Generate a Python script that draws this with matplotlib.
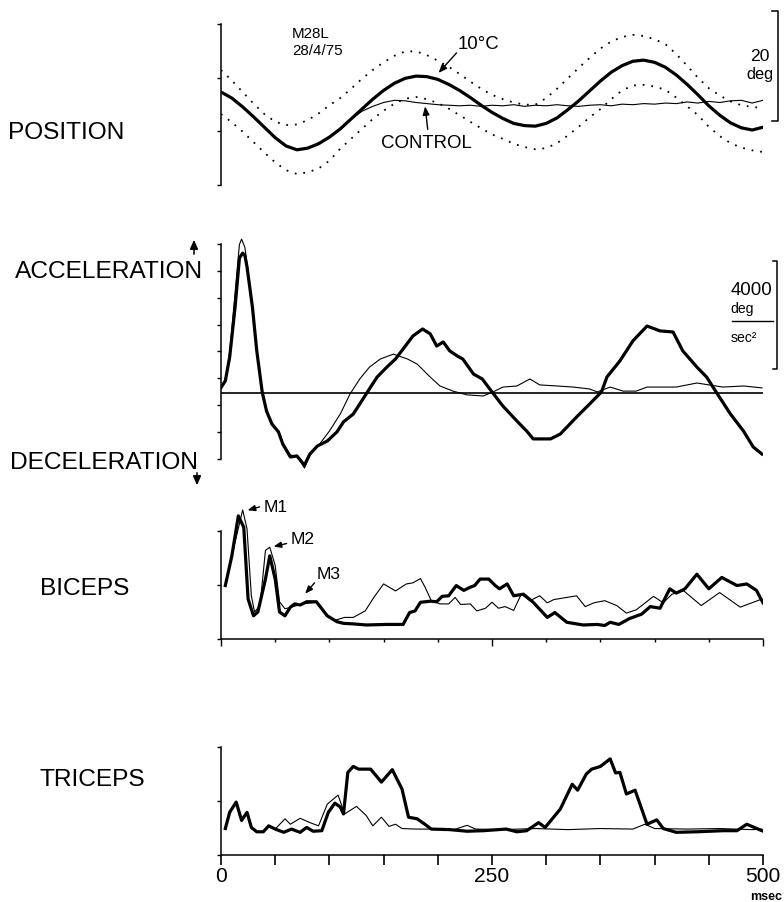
import numpy as np
import matplotlib
matplotlib.use("Agg")
import matplotlib.pyplot as plt
from matplotlib import font_manager

W, H = 784, 903

# --- data (msec on x) ---
# position, deg, sampled every 10 msec
pos_t = np.arange(0, 501, 10)
pos_cooled = [16.9, 15.8, 14.2, 12.4, 10.5, 8.6, 7.1, 6.4, 6.7, 7.5, 8.7,
              10.2, 12.0, 13.8, 15.6, 17.2, 18.5, 19.4, 19.8, 19.7, 19.2,
              18.3, 17.2, 15.9, 14.5, 13.2, 12.1, 11.2, 10.8, 10.7, 11.2,
              12.2, 13.7, 15.3, 17.1, 18.9, 20.5, 21.7, 22.5, 22.7, 22.3,
              21.4, 20.0, 18.3, 16.4, 14.4, 12.7, 11.3, 10.4, 10.0, 10.5]
pos_control = [16.9, 15.8, 14.2, 12.4, 10.5, 8.6, 7.1, 6.4, 6.7, 7.5, 8.7,
               10.2, 12.0, 13.4, 14.3, 15.0, 15.4, 15.3, 15.0, 14.8, 14.6,
               14.5, 14.4, 14.5, 14.3, 14.5, 14.4, 14.6, 14.3, 14.5, 14.4,
               14.6, 14.4, 14.3, 14.5, 14.6, 14.4, 14.7, 14.6, 14.8, 14.7,
               14.9, 14.8, 15.1, 14.9, 15.2, 15.0, 15.3, 15.4, 14.9, 15.4]
pos_upper = [20.9, 19.0, 16.9, 14.8, 12.9, 11.5, 10.9, 11.0, 11.8, 13.0, 14.5,
             15.8, 17.5, 19.3, 20.9, 22.3, 23.5, 24.3, 24.3, 23.6, 22.6,
             21.5, 20.2, 18.8, 17.5, 16.4, 15.6, 15.0, 14.6, 14.6, 15.8,
             17.5, 19.4, 21.3, 23.1, 24.8, 26.1, 26.9, 27.3, 27.1, 26.5,
             25.6, 23.8, 21.7, 19.5, 17.6, 16.3, 15.2, 14.5, 14.2, 14.0]
pos_lower = [12.9, 11.4, 9.7, 7.8, 5.9, 4.1, 2.7, 2.0, 2.3, 3.0, 4.4,
             6.6, 8.4, 10.2, 12.0, 13.5, 14.8, 15.7, 16.0, 15.6, 14.9,
             13.9, 12.7, 11.5, 10.3, 9.2, 8.4, 7.5, 6.9, 6.5, 6.7,
             7.6, 9.0, 10.6, 12.3, 13.8, 15.6, 17.2, 18.1, 18.2, 17.9,
             17.3, 15.9, 14.3, 12.7, 10.6, 8.9, 7.6, 6.8, 6.3, 6.0]

# acceleration, deg/sec^2
acc_cooled_t = [0, 4, 8, 13, 17, 20, 22, 24, 29, 33, 38, 42, 47, 53, 57, 64,
                70, 77, 82, 89, 98, 107, 113, 122, 131, 138, 144, 153, 161,
                168, 177, 186, 193, 199, 205, 211, 218, 223, 233, 241, 250,
                260, 273, 282, 288, 304, 313, 328, 340, 351, 356, 368, 380,
                393, 405, 417, 426, 439, 448, 458, 470, 482, 491, 499]
acc_cooled = [200, 450, 1330, 3180, 5000, 5180, 5100, 4670, 3180, 1560, 40,
              -670, -1150, -1440, -1890, -2370, -2330, -2670, -2260, -1960,
              -1780, -1440, -1070, -780, -220, 220, 590, 960, 1260, 1630,
              2110, 2370, 2190, 1740, 1890, 1560, 1370, 1260, 700, 520, 40,
              -480, -1040, -1410, -1700, -1700, -1520, -890, -410, 40, 590,
              1190, 1930, 2480, 2300, 2260, 1560, 960, 590, -40, -780,
              -1410, -2000, -2260]
acc_control_t = [0, 4, 8, 13, 17, 19, 22, 25, 29, 33, 38, 42, 47, 53, 57, 64,
                 70, 77, 82, 91, 100, 110, 119, 128, 137, 147, 159, 172, 181,
                 193, 202, 214, 227, 242, 251, 260, 273, 285, 294, 310, 325,
                 340, 347, 359, 371, 383, 393, 420, 439, 463, 482, 499]
acc_control = [200, 500, 1500, 3700, 5500, 5700, 5400, 4500, 3180, 1560, 40,
               -670, -1100, -1440, -1850, -2300, -2330, -2780, -2300, -1890,
               -1410, -780, -40, 520, 960, 1260, 1440, 1260, 1070, 590, 260,
               70, -70, -110, 40, 220, 260, 520, 300, 260, 220, 150, 40, 220,
               70, 70, 220, 220, 370, 220, 260, 190]

# biceps EMG (arbitrary units)
bic_cooled_t = [4, 10, 16, 21, 25, 30, 34, 41, 45, 50, 54, 59, 64, 68, 73, 79,
                88, 93, 98, 107, 113, 122, 134, 153, 168, 174, 179, 184, 193,
                199, 204, 210, 217, 224, 230, 234, 239, 247, 253, 257, 264,
                270, 279, 288, 301, 308, 319, 334, 347, 354, 359, 367, 377,
                388, 396, 405, 414, 420, 428, 439, 450, 462, 476, 485, 494, 500]
bic_cooled = [0.99, 1.54, 2.28, 2.07, 0.74, 0.43, 0.50, 1.11, 1.54, 1.11,
              0.50, 0.43, 0.59, 0.65, 0.63, 0.69, 0.69, 0.56, 0.43, 0.32,
              0.29, 0.28, 0.26, 0.27, 0.27, 0.49, 0.52, 0.68, 0.70, 0.69,
              0.79, 0.80, 0.99, 0.90, 0.96, 0.99, 1.11, 1.11, 0.99, 0.93,
              1.02, 0.80, 0.83, 0.68, 0.40, 0.49, 0.31, 0.26, 0.27, 0.25,
              0.31, 0.27, 0.38, 0.46, 0.60, 0.57, 0.93, 0.85, 0.93, 1.20,
              0.93, 1.14, 0.99, 1.02, 0.90, 0.67]
bic_control_t = [4, 10, 20, 24, 28, 31, 36, 41, 45, 50, 54, 59, 65, 75, 88, 98,
                 104, 114, 122, 133, 141, 150, 161, 171, 177, 184, 188, 194,
                 202, 210, 216, 221, 230, 236, 244, 250, 256, 262, 270, 277,
                 285, 294, 301, 307, 328, 336, 344, 354, 365, 374, 383, 399,
                 408, 416, 427, 443, 460, 479, 499]
bic_control = [0.99, 1.54, 2.39, 2.04, 0.80, 0.50, 0.62, 1.64, 1.70, 1.36,
               0.69, 0.56, 0.59, 0.65, 0.68, 0.43, 0.34, 0.40, 0.40, 0.52,
               0.77, 1.02, 0.89, 1.02, 1.04, 1.12, 0.97, 0.71, 0.65, 0.65,
               0.77, 0.64, 0.65, 0.52, 0.57, 0.68, 0.57, 0.60, 0.53, 0.83,
               0.71, 0.80, 0.67, 0.73, 0.80, 0.60, 0.67, 0.71, 0.62, 0.48,
               0.54, 0.79, 0.67, 0.83, 0.89, 0.62, 0.86, 0.59, 0.74]

# triceps EMG (arbitrary units)
tri_cooled_t = [4, 8, 14, 19, 24, 28, 33, 39, 44, 50, 58, 65, 73, 79, 85, 93,
                99, 105, 110, 113, 117, 122, 127, 138, 148, 158, 167, 173, 181,
                188, 194, 211, 227, 242, 263, 273, 282, 293, 299, 313, 324,
                329, 337, 342, 350, 359, 364, 368, 374, 382, 393, 402, 408,
                420, 439, 463, 476, 485, 499]
tri_cooled = [0.49, 0.79, 0.98, 0.64, 0.79, 0.51, 0.43, 0.43, 0.54, 0.48,
              0.42, 0.48, 0.42, 0.51, 0.44, 0.45, 0.79, 0.96, 0.89, 0.76,
              1.53, 1.64, 1.59, 1.59, 1.35, 1.58, 1.22, 0.70, 0.67, 0.57,
              0.48, 0.47, 0.44, 0.45, 0.48, 0.43, 0.45, 0.60, 0.51, 0.85,
              1.31, 1.20, 1.50, 1.59, 1.64, 1.78, 1.52, 1.53, 1.13, 1.20,
              0.57, 0.65, 0.49, 0.42, 0.43, 0.45, 0.45, 0.57, 0.45]
tri_control_t = [4, 8, 14, 19, 24, 28, 33, 39, 44, 50, 59, 64, 73, 82, 90, 98,
                 108, 114, 125, 134, 140, 148, 155, 161, 167, 180, 200, 215,
                 227, 235, 260, 290, 320, 350, 380, 391, 400, 430, 460, 490, 499]
tri_control = [0.49, 0.79, 0.98, 0.64, 0.79, 0.51, 0.43, 0.43, 0.54, 0.48,
               0.67, 0.57, 0.68, 0.60, 0.54, 0.94, 1.11, 0.76, 0.90, 0.73,
               0.54, 0.70, 0.53, 0.57, 0.49, 0.48, 0.48, 0.47, 0.55, 0.48,
               0.47, 0.49, 0.47, 0.49, 0.48, 0.57, 0.49, 0.48, 0.49, 0.47, 0.48]

# --- fonts ---
names = {f.name for f in font_manager.fontManager.ttflist}
if 'Liberation Sans Narrow' in names:
    FONT, K = 'Liberation Sans Narrow', 1.0
else:
    FONT, K = 'Liberation Sans', 0.84
plt.rcParams['font.family'] = [FONT, 'DejaVu Sans']

BOLD = 2.3
THIN = 0.8

fig = plt.figure(figsize=(W / 100, H / 100), dpi=100)


def fp(x, y):
    # pixel position -> figure fraction
    return (x / W, 1 - y / H)


def panel(top, bottom):
    ax = fig.add_axes([221 / W, 1 - bottom / H, (763 - 221) / W, (bottom - top) / H])
    ax.set_xlim(0, 500)
    ax.patch.set_visible(False)
    for s in ['top', 'right']:
        ax.spines[s].set_visible(False)
    ax.spines['left'].set_linewidth(1.1)
    ax.spines['bottom'].set_linewidth(1.1)
    ax.tick_params(axis='y', direction='out', length=3, width=1, labelleft=False)
    return ax


# Position
ax1 = panel(10, 190)
ax1.set_ylim(-0.727, 32.0)
ax1.spines['left'].set_bounds(0, 29.27)
ax1.spines['bottom'].set_visible(False)
ax1.set_xticks([])
ax1.set_yticks([0, 9.76, 19.5, 29.27])
ax1.plot(pos_t, pos_upper, color='black', lw=1.3, ls=(0, (1, 3.8)))
ax1.plot(pos_t, pos_lower, color='black', lw=1.3, ls=(0, (1, 3.8)))
ax1.plot(pos_t, pos_control, color='black', lw=THIN)
ax1.plot(pos_t, pos_cooled, color='black', lw=BOLD)
# 20 deg scale bar
ax1.plot([508, 514, 514, 508], [31.6, 31.6, 11.6, 11.6], color='black', lw=1.1, clip_on=False)
ax1.text(497, 23.6, '20', ha='center', va='center', fontsize=15 * K)
ax1.text(497, 20.2, 'deg', ha='center', va='center', fontsize=14 * K)
ax1.text(65, 27.6, 'M28L', ha='left', va='center', fontsize=13 * K)
ax1.text(66, 24.6, '28/4/75', ha='left', va='center', fontsize=13 * K)
ax1.text(218, 25.8, '10°C', ha='left', va='center', fontsize=16 * K)
ax1.annotate('', xy=(199, 20.0), xytext=(219, 24.4),
             arrowprops=dict(arrowstyle='-|>,head_length=0.5,head_width=0.2', color='black', lw=1))
ax1.text(148, 7.7, 'CONTROL', ha='left', va='center', fontsize=16 * K)
ax1.annotate('', xy=(188, 14.8), xytext=(191, 9.6),
             arrowprops=dict(arrowstyle='-|>,head_length=0.5,head_width=0.2', color='black', lw=1))

# Acceleration
ax2 = panel(230, 480)
ax2.set_ylim(-3185, 6074)
ax2.spines['left'].set_bounds(-2444, 5519)
ax2.spines['bottom'].set_visible(False)
ax2.set_xticks([])
ax2.set_yticks(np.linspace(-2444, 5519, 9))
ax2.axhline(0, color='black', lw=1.2)
ax2.plot(acc_control_t, acc_control, color='black', lw=THIN)
ax2.plot(acc_cooled_t, acc_cooled, color='black', lw=BOLD)
# 4000 deg/sec^2 scale bar
ax2.plot([509, 513, 513, 509], [4889, 4889, 889, 889], color='black', lw=1.1, clip_on=False)
ax2.text(470, 3815, '4000', ha='left', va='center', fontsize=16 * K)
ax2.text(470, 3150, 'deg', ha='left', va='center', fontsize=12 * K)
ax2.plot([471, 509], [2667, 2667], color='black', lw=1, clip_on=False)
ax2.text(470, 2080, 'sec²', ha='left', va='center', fontsize=12 * K)

# Biceps
ax3 = panel(490, 650)
ax3.set_ylim(-0.185, 2.778)
ax3.spines['left'].set_bounds(0, 2)
ax3.spines['bottom'].set_position(('data', 0))
ax3.set_yticks([0, 1, 2])
ax3.set_xticks([0, 250, 500])
ax3.set_xticks(np.arange(50, 500, 50), minor=True)
ax3.tick_params(axis='x', which='major', direction='out', length=5, width=1, labelbottom=False)
ax3.tick_params(axis='x', which='minor', direction='out', length=2.5, width=1)
ax3.plot(bic_control_t, bic_control, color='black', lw=THIN)
ax3.plot(bic_cooled_t, bic_cooled, color='black', lw=BOLD)
arrow = dict(arrowstyle='-|>,head_length=0.45,head_width=0.18', color='black', lw=1)
ax3.text(39, 2.46, 'M1', ha='left', va='center', fontsize=15 * K)
ax3.annotate('', xy=(22, 2.37), xytext=(38, 2.46), arrowprops=arrow)
ax3.text(64, 1.86, 'M2', ha='left', va='center', fontsize=15 * K)
ax3.annotate('', xy=(46, 1.70), xytext=(63, 1.78), arrowprops=arrow)
ax3.text(88, 1.22, 'M3', ha='left', va='center', fontsize=15 * K)
ax3.annotate('', xy=(76, 0.80), xytext=(88, 1.08), arrowprops=arrow)

# Triceps
ax4 = panel(740, 860)
ax4.set_ylim(-0.074, 2.148)
ax4.spines['left'].set_bounds(0, 2)
ax4.spines['bottom'].set_position(('data', 0))
ax4.set_yticks([0, 1, 2])
ax4.set_xticks(np.arange(0, 501, 50))
ax4.set_xticklabels(['0', '', '', '', '', '250', '', '', '', '', '500'], fontsize=18 * K)
ax4.tick_params(axis='x', direction='out', length=7.5, width=1.2, pad=0.5)
ax4.plot(tri_control_t, tri_control, color='black', lw=THIN)
ax4.plot(tri_cooled_t, tri_cooled, color='black', lw=BOLD)
fig.text(*fp(766, 897), 'msec', ha='center', va='center', fontsize=9, fontweight='bold')

# row labels
lab = 21 * K
fig.text(*fp(8, 133), 'POSITION', ha='left', va='center', fontsize=lab)
fig.text(*fp(15, 272), 'ACCELERATION', ha='left', va='center', fontsize=lab)
fig.text(*fp(10, 463), 'DECELERATION', ha='left', va='center', fontsize=lab)
fig.text(*fp(40, 589), 'BICEPS', ha='left', va='center', fontsize=lab)
fig.text(*fp(40, 780), 'TRICEPS', ha='left', va='center', fontsize=lab)
head = '-|>,head_length=0.45,head_width=0.2'
fig.add_artist(matplotlib.patches.FancyArrowPatch(fp(194, 258), fp(194, 238), transform=fig.transFigure,
                                                  arrowstyle=head, color='black', lw=1.1,
                                                  mutation_scale=12))
fig.add_artist(matplotlib.patches.FancyArrowPatch(fp(197, 471), fp(197, 489), transform=fig.transFigure,
                                                  arrowstyle=head, color='black', lw=1.1,
                                                  mutation_scale=12))

fig.savefig('out.png', dpi=100)
